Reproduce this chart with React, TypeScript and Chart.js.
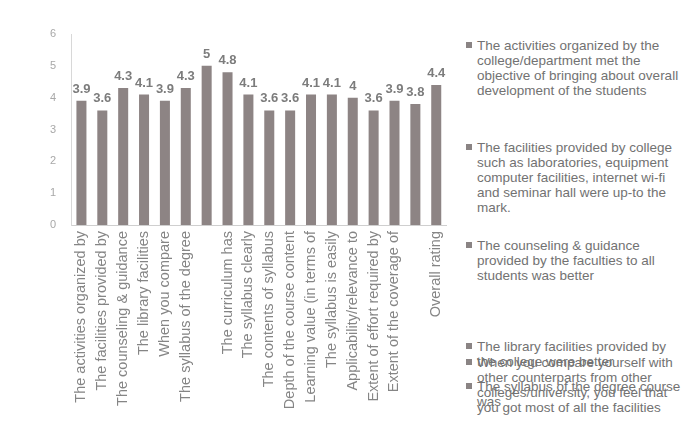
import React, { useEffect, useRef } from "react";
import { Chart, registerables } from "chart.js";

Chart.register(...registerables);

const categories: string[] = [
  "The activities organized by",
  "The facilities provided by",
  "The counseling & guidance",
  "The library facilities",
  "When you compare",
  "The syllabus of the degree",
  "",
  "The curriculum has",
  "The syllabus clearly",
  "The contents of syllabus",
  "Depth of the course content",
  "Learning value (in terms of",
  "The syllabus is easily",
  "Applicability/relevance to",
  "Extent of effort required by",
  "Extent of the coverage of",
  "",
  "Overall rating",
];

const ratings: number[] = [3.9, 3.6, 4.3, 4.1, 3.9, 4.3, 5, 4.8, 4.1, 3.6, 3.6, 4.1, 4.1, 4, 3.6, 3.9, 3.8, 4.4];

const yTicks: number[] = [0, 1, 2, 3, 4, 5, 6];

const legendEntries: string[][] = [
  ["The activities organized by the", "college/department met the", "objective of bringing about overall", "development of the students"],
  ["The facilities provided by college", "such as laboratories, equipment", "computer facilities, internet wi-fi", "and seminar hall were up-to the", "mark."],
  ["The counseling & guidance", "provided by the faculties to all", "students was better"],
  ["The library facilities provided by", "the college were better"],
  ["When you compare yourself with", "other counterparts from other", "colleges/university, you feel that", "you got most of all the facilities"],
  ["The syllabus of the degree course", "was"],
];

// layout (first-line centre y of each legend entry, in page px)
const LEGEND_LINE_CENTERS = [45, 147, 245, 346, 362, 386];
const LINE_H = 15;

const BAR_COLOR = "#8d8484";
const FONT = "Arial, 'Liberation Sans', sans-serif";

const valueLabels = {
  id: "valueLabels",
  afterDatasetsDraw(chart: any) {
    const ctx = chart.ctx;
    const meta = chart.getDatasetMeta(0);
    ctx.save();
    ctx.font = `bold 13px ${FONT}`;
    ctx.fillStyle = "#7c7c7c";
    ctx.textAlign = "center";
    ctx.textBaseline = "bottom";
    meta.data.forEach((bar: any, i: number) => {
      ctx.fillText(String(ratings[i]), bar.x, bar.y - 5);
    });
    ctx.restore();
  },
};

export default function App() {
  const ref = useRef<HTMLCanvasElement | null>(null);

  useEffect(() => {
    if (!ref.current) return;
    const chart = new Chart(ref.current, {
      type: "bar",
      data: {
        labels: categories,
        datasets: [
          {
            data: ratings,
            backgroundColor: BAR_COLOR,
            borderWidth: 0,
            barPercentage: 0.48,
            categoryPercentage: 1,
          },
        ],
      },
      options: {
        responsive: false,
        animation: false,
        layout: { padding: { top: 34, right: 13, left: 0, bottom: 0 } },
        plugins: {
          legend: { display: false },
          tooltip: { enabled: false },
          title: { display: false },
        },
        scales: {
          x: {
            grid: { display: false, drawTicks: false },
            border: { display: true, color: "#cfcfcf", width: 1 },
            ticks: {
              autoSkip: false,
              minRotation: 90,
              maxRotation: 90,
              padding: 6,
              color: "#858585",
              font: { family: FONT, size: 14.5 },
            },
            afterFit: (scale: any) => {
              scale.height = 222;
            },
          },
          y: {
            min: 0,
            max: 6,
            afterBuildTicks: (scale: any) => {
              scale.ticks = yTicks.map((v) => ({ value: v }));
            },
            grid: { display: false, drawTicks: false },
            border: { display: true, color: "#d8d8d8", width: 1 },
            ticks: {
              padding: 15,
              color: "#a8a8a8",
              font: { family: FONT, size: 11 },
            },
            afterFit: (scale: any) => {
              scale.width = 71;
            },
          },
        },
      },
      plugins: [valueLabels],
    });
    return () => chart.destroy();
  }, []);

  return (
    <div
      style={{
        position: "absolute",
        left: 0,
        top: 0,
        width: 690,
        height: 447,
        background: "#ffffff",
        overflow: "hidden",
        fontFamily: FONT,
      }}
    >
      <canvas ref={ref} width={460} height={447} style={{ position: "absolute", left: 0, top: 0 }} />
      <div style={{ position: "absolute", left: 460, top: 0, width: 230, height: 447 }}>
        {legendEntries.map((lines, i) => {
          const top = LEGEND_LINE_CENTERS[i] - LINE_H / 2;
          return (
            <div key={i} style={{ position: "absolute", left: 0, top, width: 230 }}>
              <div
                style={{
                  position: "absolute",
                  left: 6,
                  top: LINE_H / 2 - 3,
                  width: 6,
                  height: 6,
                  background: "#8a8484",
                }}
              />
              <div
                style={{
                  position: "absolute",
                  left: 17,
                  top: 0,
                  whiteSpace: "nowrap",
                  fontSize: 13.5,
                  lineHeight: `${LINE_H}px`,
                  color: "#727272",
                }}
              >
                {lines.map((l, j) => (
                  <div key={j}>{l}</div>
                ))}
              </div>
            </div>
          );
        })}
      </div>
    </div>
  );
}
